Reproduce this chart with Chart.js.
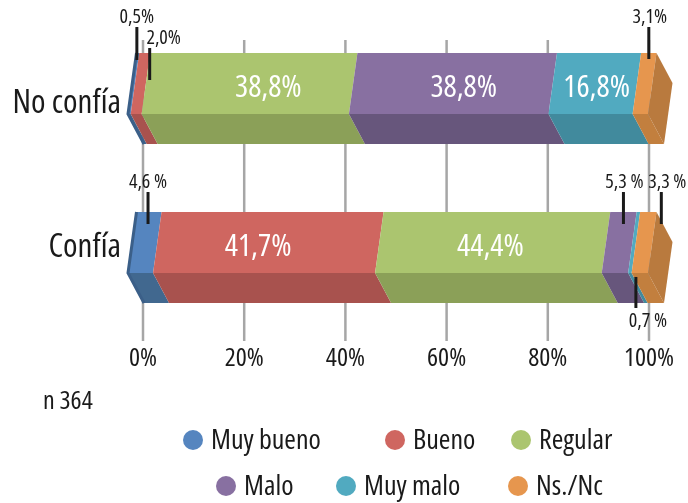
<!DOCTYPE html>
<html>
<head>
<meta charset="utf-8">
<script src="https://cdn.jsdelivr.net/npm/chart.js@4.4.1/dist/chart.umd.min.js"></script>
<style>
  body { margin: 0; background: #fff; }
</style>
</head>
<body>
<canvas id="myChart" width="688" height="503"></canvas>
<script>
const categorias = ['No confía', 'Confía']
const series = ['Muy bueno', 'Bueno', 'Regular', 'Malo', 'Muy malo', 'Ns./Nc']
const muyBueno = [0.5, 4.6]
const bueno = [2.0, 41.7]
const regular = [38.8, 44.4]
const malo = [38.8, 5.3]
const muyMalo = [16.8, 0.7]
const nsnc = [3.1, 3.3]
const ticksX = [0, 20, 40, 60, 80, 100]
const muestra = 'n 364'

const valores = [muyBueno, bueno, regular, malo, muyMalo, nsnc]

// cara frontal / cara inferior de cada serie
const colores = [
  { cara: '#5585bf', sombra: '#41688f' },
  { cara: '#cf6660', sombra: '#a8524e' },
  { cara: '#abc56f', sombra: '#8ba058' },
  { cara: '#8870a1', sombra: '#67567c' },
  { cara: '#51aac0', sombra: '#418a9d' },
  { cara: '#e6964e', sombra: '#c27f3e' }
]
const colorTapa = '#b97a3e'
const colorBorde = '#3b5f88'

const familia = "'Open Sans', 'Roboto Condensed', sans-serif"
const letra = (size) => `condensed ${size}px ${familia}`
const tinta = '#1a1a1a'

// corrimiento horizontal de los valores grandes, por serie y categoría
const corrimientoDentro = [
  [0, 0], [0, -14], [15, -6], [7, 0], [-2, 0], [0, 0]
]

// etiquetas chicas con línea guía (serie, categoría)
const etiquetasFuera = [
  { s: 0, c: 0, lado: 'arriba', dx: -1, tdx: 0, largo: 26, dentro: 7, espacio: false },
  { s: 1, c: 0, lado: 'arriba', dx: 5, tdx: 14, largo: 5, dentro: 27, espacio: false },
  { s: 5, c: 0, lado: 'arriba', dx: 0, tdx: 1, largo: 26, dentro: 6, espacio: false },
  { s: 0, c: 1, lado: 'arriba', dx: -1, tdx: 0, largo: 20, dentro: 12, espacio: true },
  { s: 3, c: 1, lado: 'arriba', dx: 0, tdx: 1, largo: 20, dentro: 12, espacio: true },
  { s: 5, c: 1, lado: 'arriba', dx: 13, tdx: 6, largo: 20, dentro: 12, espacio: true },
  { s: 4, c: 1, lado: 'abajo', dx: 6, tdx: 12, largo: 5, dentro: 4, espacio: true }
]

const leyendaFilas = [
  { y: 440, items: [[0, 193], [1, 395], [2, 521]] },
  { y: 486, items: [[3, 226], [4, 346], [5, 518]] }
]

const formato = (v, espacio) => v.toFixed(1).replace('.', ',') + (espacio ? ' %' : '%')

const geometria = (chart) => {
  const x = chart.scales.x
  const x0 = x.getPixelForValue(0)
  const x1 = x.getPixelForValue(100)
  const c = 0.05
  // la cara frontal se ve en perspectiva, un poco abierta a la izquierda
  const frente = (px) => {
    const u = (px - x0) / (x1 - x0)
    return x0 - 15 + (x1 - x0 + 14) * u * (1 + c) / (1 + c * u)
  }
  return { x, frente }
}

const forma = (el, frente) => {
  const { x: fin, base, y, height } = el.getProps(['x', 'base', 'y', 'height'], true)
  const top = y - height / 2
  const mid = top + height * 0.67
  const bottom = top + height
  const m0 = frente(base), m1 = frente(fin)
  return { top, mid, bottom, height, m0, m1, t0: m0 + 8.5, t1: m1 + 8.5, b0: m0 + 16, b1: m1 + 16 }
}

const poly = (ctx, pts, color) => {
  ctx.beginPath()
  pts.forEach(([px, py], i) => i ? ctx.lineTo(px, py) : ctx.moveTo(px, py))
  ctx.closePath()
  ctx.fillStyle = color
  ctx.fill()
}

const prisma = {
  id: 'prisma',
  beforeDatasetsDraw(chart) {
    const { ctx, chartArea } = chart
    const { x, frente } = geometria(chart)

    ctx.save()
    ctx.strokeStyle = '#a6a6a6'
    ctx.lineWidth = 2.5
    x.ticks.forEach((t, i) => {
      const px = x.getPixelForTick(i)
      ctx.beginPath()
      ctx.moveTo(px, chartArea.top + 21)
      ctx.lineTo(px, chartArea.bottom + 4)
      ctx.stroke()
    })

    const ultimo = chart.data.datasets.length - 1
    chart.data.datasets.forEach((ds, i) => {
      chart.getDatasetMeta(i).data.forEach((el) => {
        const f = forma(el, frente)
        poly(ctx, [[f.t0, f.top], [f.t1, f.top], [f.m1, f.mid], [f.m0, f.mid]], colores[i].cara)
        poly(ctx, [[f.m0, f.mid], [f.m1, f.mid], [f.b1, f.bottom], [f.b0, f.bottom]], colores[i].sombra)
        if (i === 0) {
          ctx.beginPath()
          ctx.moveTo(f.t0, f.top)
          ctx.lineTo(f.m0, f.mid)
          ctx.lineTo(f.b0, f.bottom)
          ctx.strokeStyle = colorBorde
          ctx.lineWidth = 3
          ctx.stroke()
        }
        if (i === ultimo) {
          poly(ctx, [[f.t1, f.top], [f.t1 + 16, f.top + f.height * 0.33], [f.b1, f.bottom], [f.m1, f.mid]], colorTapa)
        }
      })
    })
    ctx.restore()
    return false
  },
  afterDraw(chart) {
    const { ctx } = chart
    const { frente } = geometria(chart)
    ctx.save()

    // valores grandes dentro de la barra
    ctx.font = letra(31)
    ctx.fillStyle = '#ffffff'
    ctx.textAlign = 'center'
    ctx.textBaseline = 'middle'
    chart.data.datasets.forEach((ds, i) => {
      chart.getDatasetMeta(i).data.forEach((el, j) => {
        const v = ds.data[j]
        if (v < 10) return
        const f = forma(el, frente)
        ctx.fillText(formato(v, false), (f.m0 + f.m1) / 2 + 8 + corrimientoDentro[i][j], f.top + f.height * 0.385)
      })
    })

    // valores chicos con línea guía
    ctx.font = letra(20)
    etiquetasFuera.forEach((e) => {
      const el = chart.getDatasetMeta(e.s).data[e.c]
      const f = forma(el, frente)
      const v = chart.data.datasets[e.s].data[e.c]
      let px, y1, y2, ty
      if (e.lado === 'arriba') {
        px = (f.t0 + f.t1) / 2 + e.dx
        y1 = f.top - e.largo
        y2 = f.top + e.dentro
        ty = y1 - 10
      } else {
        px = (f.m0 + f.m1) / 2 + e.dx
        y1 = f.mid + e.dentro
        y2 = f.bottom + e.largo
        ty = y2 + 13
      }
      ctx.strokeStyle = tinta
      ctx.lineWidth = 3
      ctx.beginPath()
      ctx.moveTo(px, y1)
      ctx.lineTo(px, y2)
      ctx.stroke()
      ctx.fillStyle = tinta
      ctx.fillText(formato(v, e.espacio), px + e.tdx, ty)
    })

    // tamaño de muestra
    ctx.font = letra(26)
    ctx.textAlign = 'left'
    ctx.fillText(muestra, 43, 402)

    // leyenda
    ctx.font = letra(28)
    leyendaFilas.forEach((fila) => {
      fila.items.forEach(([s, cx]) => {
        ctx.beginPath()
        ctx.arc(cx, fila.y, 10, 0, Math.PI * 2)
        ctx.fillStyle = colores[s].cara
        ctx.fill()
        ctx.fillStyle = tinta
        ctx.fillText(series[s], cx + 18, fila.y + 1)
      })
    })
    ctx.restore()
  }
}

new Chart('myChart', {
  type: 'bar',
  data: {
    labels: categorias,
    datasets: series.map((nombre, i) => ({
      label: nombre,
      data: valores[i],
      backgroundColor: colores[i].cara,
      barPercentage: 1,
      categoryPercentage: 0.572
    }))
  },
  options: {
    indexAxis: 'y',
    responsive: false,
    animation: false,
    devicePixelRatio: 1,
    layout: { padding: { top: 19, right: 39, left: 0, bottom: 0 } },
    plugins: {
      legend: { display: false },
      tooltip: { enabled: false }
    },
    scales: {
      x: {
        stacked: true,
        min: 0,
        max: 100,
        afterBuildTicks: (scale) => { scale.ticks = ticksX.map((v) => ({ value: v })) },
        afterFit: (scale) => {
          scale.height = 166
          scale.paddingLeft = 0
          scale.paddingRight = 0
        },
        grid: { display: false, drawTicks: false },
        border: { display: false },
        ticks: {
          padding: 6,
          color: tinta,
          font: { family: familia, weight: 'condensed', size: 26 },
          callback: (v) => v + '%'
        }
      },
      y: {
        stacked: true,
        afterFit: (scale) => {
          scale.width = 143
          scale.paddingTop = 0
          scale.paddingBottom = 0
        },
        grid: { display: false, drawTicks: false },
        border: { display: false },
        ticks: {
          padding: 22,
          labelOffset: -2,
          color: tinta,
          font: { family: familia, weight: 'condensed', size: 33, lineHeight: 0.45 },
          // la primera etiqueta va un poco más abajo, la segunda un poco más arriba
          callback: function (v, i) {
            const txt = this.getLabelForValue(v)
            return i === 0 ? ['', txt] : [txt, '']
          }
        }
      }
    }
  },
  plugins: [prisma]
})
</script>
</body>
</html>
